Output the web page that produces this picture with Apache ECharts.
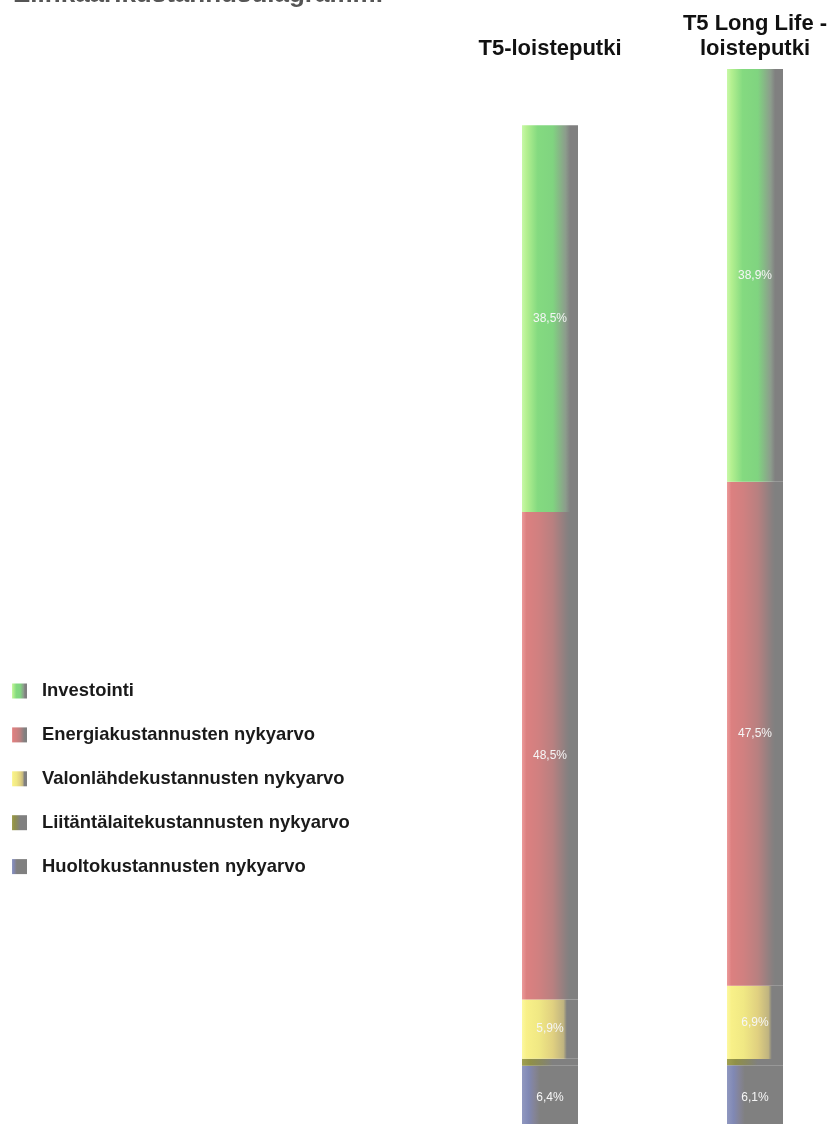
<!DOCTYPE html>
<html>
<head>
<meta charset="utf-8">
<title>Elinkaarikustannusdiagrammi</title>
<script src="https://cdn.jsdelivr.net/npm/echarts@6/dist/echarts.min.js"></script>
<style>
  html, body { margin: 0; padding: 0; background: #ffffff; }
  #chart { width: 835px; height: 1124px; }
</style>
</head>
<body>
<div id="chart"></div>
<script>
// Lamp types compared
var categories = ['T5-loisteputki', 'T5 Long Life -\nloisteputki'];

// Relative size of each lamp's total life-cycle cost
var totals = [100, 105.6];

// Cost components, share of each lamp's total (%)
var investointi = [38.5, 38.9];
var energia = [48.5, 47.5];
var valonlahde = [5.9, 6.9];
var liitantalaite = [0.7, 0.6];
var huolto = [6.4, 6.1];

var seriesNames = [
  'Investointi',
  'Energiakustannusten nykyarvo',
  'Valonlähdekustannusten nykyarvo',
  'Liitäntälaitekustannusten nykyarvo',
  'Huoltokustannusten nykyarvo'
];

var FONT = '"Liberation Sans", Arial, Helvetica, sans-serif';
var GRAY = '#808080';

// Horizontal gradients: light edge on the left, fading into gray on the right
function grad(stops) {
  return new echarts.graphic.LinearGradient(0, 0, 1, 0, stops.map(function (s) {
    return { offset: s[0], color: s[1] };
  }));
}

var fills = [
  grad([[0, '#c8f8a8'], [0.08, '#b4f090'], [0.28, '#84da80'], [0.55, '#80d480'], [0.78, '#8c9c8c'], [0.86, GRAY], [1, GRAY]]),
  grad([[0, '#ec9a9a'], [0.08, '#dc8080'], [0.3, '#d08080'], [0.55, '#b88080'], [0.8, '#888080'], [0.86, GRAY], [1, GRAY]]),
  grad([[0, '#fcf8a0'], [0.08, '#f8f088'], [0.3, '#f0e884'], [0.55, '#e0d080'], [0.74, '#c0b480'], [0.8, GRAY], [1, GRAY]]),
  grad([[0, '#a0a050'], [0.15, '#909048'], [0.35, '#888860'], [0.55, GRAY], [1, GRAY]]),
  grad([[0, '#9098c0'], [0.12, '#8088b4'], [0.22, '#848498'], [0.32, GRAY], [1, GRAY]])
];

var shares = [investointi, energia, valonlahde, liitantalaite, huolto];

function fmtPct(v) {
  return v.toFixed(1).replace('.', ',') + '%';
}

var series = shares.map(function (arr, i) {
  return {
    name: seriesNames[i],
    type: 'bar',
    stack: 'cost',
    barWidth: 56,
    itemStyle: { color: fills[i] },
    label: {
      show: arr.every(function (v) { return v >= 2; }),
      position: 'inside',
      color: '#f6f6f6',
      fontSize: 12,
      fontFamily: FONT,
      formatter: function (p) { return fmtPct(arr[p.dataIndex]); }
    },
    emphasis: { disabled: true },
    data: arr.map(function (v, j) { return v * totals[j] / 100; })
  };
});

// Stacking runs bottom-up: maintenance first, investment on top
series.reverse();

var chart = echarts.init(document.getElementById('chart'), null, { renderer: 'canvas' });
chart.setOption({
  animation: false,
  backgroundColor: '#ffffff',
  title: {
    text: 'Elinkaarikustannusdiagrammi',
    left: 8,
    top: -23,
    textStyle: { fontFamily: FONT, fontSize: 26, fontWeight: 'bold', color: '#555555' }
  },
  legend: {
    orient: 'vertical',
    left: 12,
    top: 682,
    padding: 0,
    itemWidth: 15,
    itemHeight: 15,
    itemGap: 25.9,
    icon: 'rect',
    selectedMode: false,
    data: seriesNames,
    textStyle: { fontFamily: FONT, fontSize: 18.4, fontWeight: 'bold', color: '#1a1a1a', padding: [0, 0, 0, 10] }
  },
  grid: { left: 447.5, width: 410, top: 69, height: 1061, containLabel: false, outerBoundsMode: 'none' },
  xAxis: {
    type: 'category',
    position: 'top',
    data: categories,
    axisLine: { show: false },
    axisTick: { show: false },
    axisLabel: {
      margin: 8,
      interval: 0,
      fontFamily: FONT,
      fontSize: 22,
      fontWeight: 'bold',
      lineHeight: 25,
      color: '#111111'
    }
  },
  yAxis: {
    type: 'value',
    min: 0,
    max: Math.max.apply(null, totals),
    show: false,
    splitLine: { show: false }
  },
  series: series
});
</script>
</body>
</html>
